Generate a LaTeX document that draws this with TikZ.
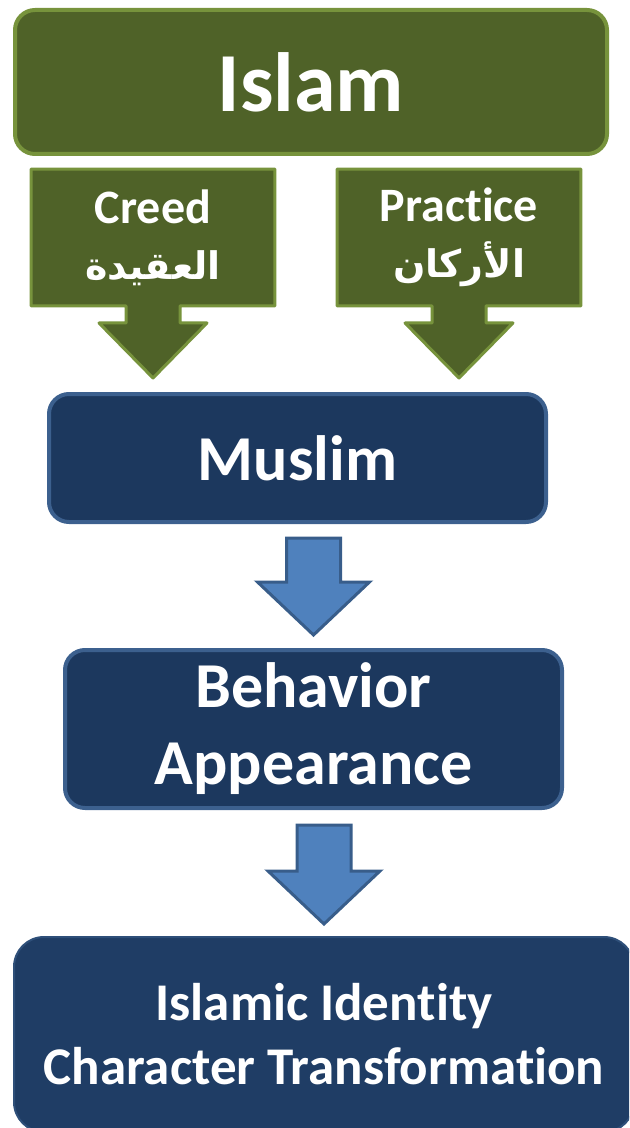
\documentclass[tikz,border=0pt]{standalone}
\usepackage{fontspec}
\setmainfont{Carlito}[Ligatures=NoCommon]
\newfontfamily\arabicfont[Script=Arabic]{DejaVu Sans}
\TeXXeTstate=1
\definecolor{islamgreen}{RGB}{79, 98, 40}
\definecolor{greenedge}{RGB}{119, 147, 60}
\definecolor{navy1}{RGB}{28, 56, 94}
\definecolor{navyedge}{RGB}{60, 96, 142}
\definecolor{navy2}{RGB}{31, 61, 101}
\definecolor{arrowblue}{RGB}{79, 129, 189}
\definecolor{arrowedge}{RGB}{56, 93, 138}
\usepackage{tikz}
\usetikzlibrary{calc, backgrounds}

% block arrow: style, top of stem, tip
\newcommand{\blockdown}[3]{%
  \draw[#1] ($(#2)+(-27,0)$) -- ($(#2)+(27,0)$) -- ($(#3)+(27,-53)$) -- ($(#3)+(56,-53)$)
    -- (#3) -- ($(#3)+(-56,-53)$) -- ($(#3)+(-27,-53)$) -- cycle;}
% box with a pointer below it: node, tip
\newcommand{\calloutdown}[2]{%
  \draw[greenshape] (#1.north west) -- (#1.north east) -- (#1.south east)
    -- ($(#1.south)+(27,0)$) -- ($(#2)+(27,-55)$) -- ($(#2)+(54,-55)$) -- (#2)
    -- ($(#2)+(-54,-55)$) -- ($(#2)+(-27,-55)$) -- ($(#1.south)+(-27,0)$)
    -- (#1.south west) -- cycle;}
\newcommand{\arab}[1]{{\arabicfont\fontsize{19}{20}\selectfont\beginR #1\endR}}

\begin{document}
\begin{tikzpicture}[x=0.5pt, y=-0.5pt,
  greenbox/.style={draw=greenedge, fill=islamgreen, line width=2pt, rounded corners=10pt, text=white, font=\bfseries\fontsize{42}{46}\selectfont, minimum width=296pt, minimum height=72pt},
  pillar/.style={minimum width=121.5pt, minimum height=68pt, text=white, align=center, inner sep=0pt, font=\bfseries\fontsize{24}{25}\selectfont},
  greenshape/.style={draw=greenedge, fill=islamgreen, line width=1.5pt, line join=round},
  navybox/.style={draw=navyedge, fill=navy1, line width=2pt, rounded corners=10pt, text=white, align=center, minimum width=248.5pt, font=\bfseries\fontsize{32}{38.5}\selectfont},
  bluearrow/.style={draw=arrowedge, fill=arrowblue, line width=1.5pt, line join=miter},
]
  \useasboundingbox (0,0) rectangle (629,1128);
  \clip (0,0) rectangle (629,1128);

  \node[greenbox] (islam) at (311,82) {Islam};
  \node[pillar] (creed) at (153,237.5) {Creed\\[3pt]\arab{العقيدة}};
  \node[pillar] (practice) at (459,237.5) {Practice\\[3pt]\arab{الأركان}};

  \node[navybox, minimum height=64pt] (muslim) at (297.5,458) {Muslim};
  \node[navybox, minimum height=79pt] (behavior) at (313.5,729) {Behavior\\Appearance};
  \node[draw=navyedge!50!navy2, fill=navy2, line width=1pt, rounded corners=15pt, minimum width=310pt, minimum height=97.5pt, text=white, align=center, font=\bfseries\fontsize{26.5}{32}\selectfont] (identity) at (324,1034.5) {Islamic Identity\\Character Transformation};

  % pointers of the two pillars
  \coordinate (c1) at ($(creed.south |- muslim.north)+(0,-14)$);
  \coordinate (c2) at ($(practice.south |- muslim.north)+(0,-14)$);
  \begin{scope}[on background layer]
    \calloutdown{creed}{c1}
    \calloutdown{practice}{c2}
  \end{scope}

  % arrows between the blue boxes
  \coordinate (a1) at ($(muslim.south -| behavior.north)+(0,14)$);
  \coordinate (a1tip) at ($(behavior.north)+(0,-13)$);
  \blockdown{bluearrow}{a1}{a1tip}
  \coordinate (a2) at ($(behavior.south -| identity.north)+(0,15)$);
  \coordinate (a2tip) at ($(identity.north)+(0,-12)$);
  \blockdown{bluearrow}{a2}{a2tip}
\end{tikzpicture}
\end{document}
